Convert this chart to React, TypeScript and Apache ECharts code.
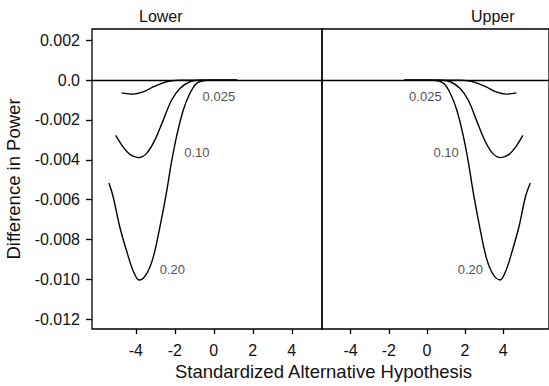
import React, { useEffect, useRef } from "react";
import * as echarts from "echarts";

// Left panel ("Lower") curves: [x, difference in power]
const lower020: [number, number][] = [
  [-5.38, -0.00517], [-5.16, -0.00588], [-4.82, -0.00739], [-4.48, -0.00856],
  [-4.14, -0.00957], [-3.83, -0.01004], [-3.46, -0.00974], [-3.11, -0.0089],
  [-2.77, -0.00739], [-2.43, -0.00565], [-2.17, -0.00410], [-1.91, -0.00282],
  [-1.57, -0.00151], [-1.23, -0.00067], [-0.89, -0.00017], [-0.55, -0.00003],
  [-0.2, 0], [0.5, 0], [1.2, 0],
];
const lower010: [number, number][] = [
  [-5.03, -0.00277], [-4.65, -0.00336], [-4.31, -0.00373], [-3.88, -0.00389],
  [-3.46, -0.00369], [-3.03, -0.00302], [-2.6, -0.00202], [-2.17, -0.00101],
  [-1.74, -0.00042], [-1.23, -0.00008], [-0.72, 0], [0.2, 0], [1.2, 0],
];
const lower0025: [number, number][] = [
  [-4.73, -0.00064], [-4.14, -0.0007], [-3.63, -0.00059], [-3.11, -0.00034],
  [-2.6, -0.00014], [-2.17, -0.00003], [-1.7, 0], [-0.5, 0], [1.2, 0],
];

// Right panel ("Upper") curves
const upper020: [number, number][] = [
  [-1.2, 0], [-0.5, 0], [0.2, 0], [0.55, -0.00003], [0.89, -0.00017],
  [1.23, -0.00067], [1.57, -0.00151], [1.91, -0.00282], [2.17, -0.0041],
  [2.43, -0.00565], [2.77, -0.00739], [3.11, -0.0089], [3.46, -0.00974],
  [3.83, -0.01004], [4.14, -0.00957], [4.48, -0.00856], [4.82, -0.00739],
  [5.16, -0.00588], [5.42, -0.00517],
];
const upper010: [number, number][] = [
  [-1.2, 0], [-0.2, 0], [0.72, 0], [1.23, -0.00008], [1.74, -0.00042],
  [2.17, -0.00101], [2.6, -0.00202], [3.03, -0.00302], [3.46, -0.00369],
  [3.88, -0.00389], [4.31, -0.00373], [4.65, -0.00336], [5.03, -0.00277],
];
const upper0025: [number, number][] = [
  [-1.2, 0], [0.5, 0], [1.7, 0], [2.17, -0.00003], [2.6, -0.00014],
  [3.11, -0.00034], [3.63, -0.00059], [4.14, -0.0007], [4.69, -0.00064],
];

// Curve labels: [x, y, text]
const lowerLabels: [number, number, string][] = [
  [0.26, -0.00084, "0.025"],
  [-0.87, -0.00363, "0.10"],
  [-2.13, -0.00952, "0.20"],
];
const upperLabels: [number, number, string][] = [
  [-0.08, -0.00084, "0.025"],
  [1.01, -0.00363, "0.10"],
  [2.28, -0.00952, "0.20"],
];

const xTicks = [-4, -2, 0, 2, 4];
const yTicks = [-0.012, -0.01, -0.008, -0.006, -0.004, -0.002, 0, 0.002];

const FONT = "'Liberation Sans', Arial, Helvetica, sans-serif";
const INK = "#111";

export default function App() {
  const ref = useRef<HTMLDivElement>(null);

  useEffect(() => {
    if (!ref.current) return;
    const chart = echarts.init(ref.current, undefined, { renderer: "svg" });

    const gridCommon = {
      top: 29,
      height: 300,
      show: true,
      borderColor: "#000",
      borderWidth: 1.3,
      backgroundColor: "transparent",
    };

    const xAxisCommon = (gridIndex: number, min: number, max: number) => ({
      type: "value" as const,
      gridIndex,
      min,
      max,
      position: "bottom",
      splitLine: { show: false },
      axisLine: { show: false, onZero: false },
      axisTick: {
        show: true,
        length: 5,
        customValues: xTicks,
        lineStyle: { color: "#000", width: 1.3 },
      },
      axisLabel: {
        show: true,
        customValues: xTicks,
        margin: 13,
        fontSize: 16,
        color: INK,
        fontFamily: FONT,
      },
    });

    const lineSeries = (data: [number, number][], idx: number, extra: any = {}) => ({
      type: "line",
      xAxisIndex: idx,
      yAxisIndex: idx,
      data,
      smooth: 0.35,
      showSymbol: false,
      symbol: "none",
      lineStyle: { color: "#000", width: 1.4 },
      silent: true,
      z: 3,
      ...extra,
    });

    const zeroLine = {
      markLine: {
        silent: true,
        symbol: ["none", "none"],
        label: { show: false },
        lineStyle: { color: "#000", width: 1.3, type: "solid" },
        data: [{ yAxis: 0 }],
      },
    };

    const labelSeries = (labels: [number, number, string][], idx: number) => ({
      type: "scatter",
      xAxisIndex: idx,
      yAxisIndex: idx,
      symbolSize: 0,
      silent: true,
      data: labels.map((l) => ({ value: [l[0], l[1]], name: l[2] })),
      label: {
        show: true,
        position: "inside",
        formatter: (p: any) => p.name,
        fontSize: 13,
        color: "#1a1a1a",
        fontFamily: FONT,
      },
    });

    chart.setOption({
      animation: false,
      grid: [
        { ...gridCommon, left: 92, width: 230 },
        { ...gridCommon, left: 322, width: 232 },
      ],
      xAxis: [xAxisCommon(0, -6.25, 5.55), xAxisCommon(1, -5.5, 6.4)],
      yAxis: [
        {
          type: "value",
          gridIndex: 0,
          min: -0.0125,
          max: 0.00257,
          position: "left",
          splitLine: { show: false },
          axisLine: { show: false, onZero: false },
          axisTick: {
            show: true,
            length: 6,
            customValues: yTicks,
            lineStyle: { color: "#000", width: 1.3 },
          },
          axisLabel: {
            show: true,
            customValues: yTicks,
            margin: 12,
            fontSize: 16,
            color: INK,
            fontFamily: FONT,
            formatter: (v: number) => (Math.abs(v) < 1e-12 ? "0.0" : v.toFixed(3)),
          },
          name: "Difference in Power",
          nameLocation: "middle",
          nameGap: 69,
          nameTextStyle: { fontSize: 18.5, color: INK, fontFamily: FONT },
        },
        {
          type: "value",
          gridIndex: 1,
          min: -0.0125,
          max: 0.00257,
          show: false,
          axisLine: { onZero: false },
        },
      ],
      graphic: [
        {
          type: "text",
          left: 161 - 22,
          top: 8,
          style: { text: "Lower", fontSize: 16, fill: INK, fontFamily: FONT },
        },
        {
          type: "text",
          left: 493 - 22,
          top: 8,
          style: { text: "Upper", fontSize: 16, fill: INK, fontFamily: FONT },
        },
        {
          type: "text",
          x: 323.5,
          y: 371,
          style: {
            text: "Standardized Alternative Hypothesis",
            fontSize: 18.5,
            fill: INK,
            fontFamily: FONT,
            align: "center",
            verticalAlign: "middle",
          },
        },
      ],
      series: [
        lineSeries(lower020, 0, zeroLine),
        lineSeries(lower010, 0),
        lineSeries(lower0025, 0),
        lineSeries(upper020, 1, zeroLine),
        lineSeries(upper010, 1),
        lineSeries(upper0025, 1),
        labelSeries(lowerLabels, 0),
        labelSeries(upperLabels, 1),
      ],
    });

    return () => chart.dispose();
  }, []);

  return (
    <div
      ref={ref}
      style={{ position: "fixed", left: 0, top: 0, width: 549, height: 386, background: "#fff" }}
    />
  );
}
